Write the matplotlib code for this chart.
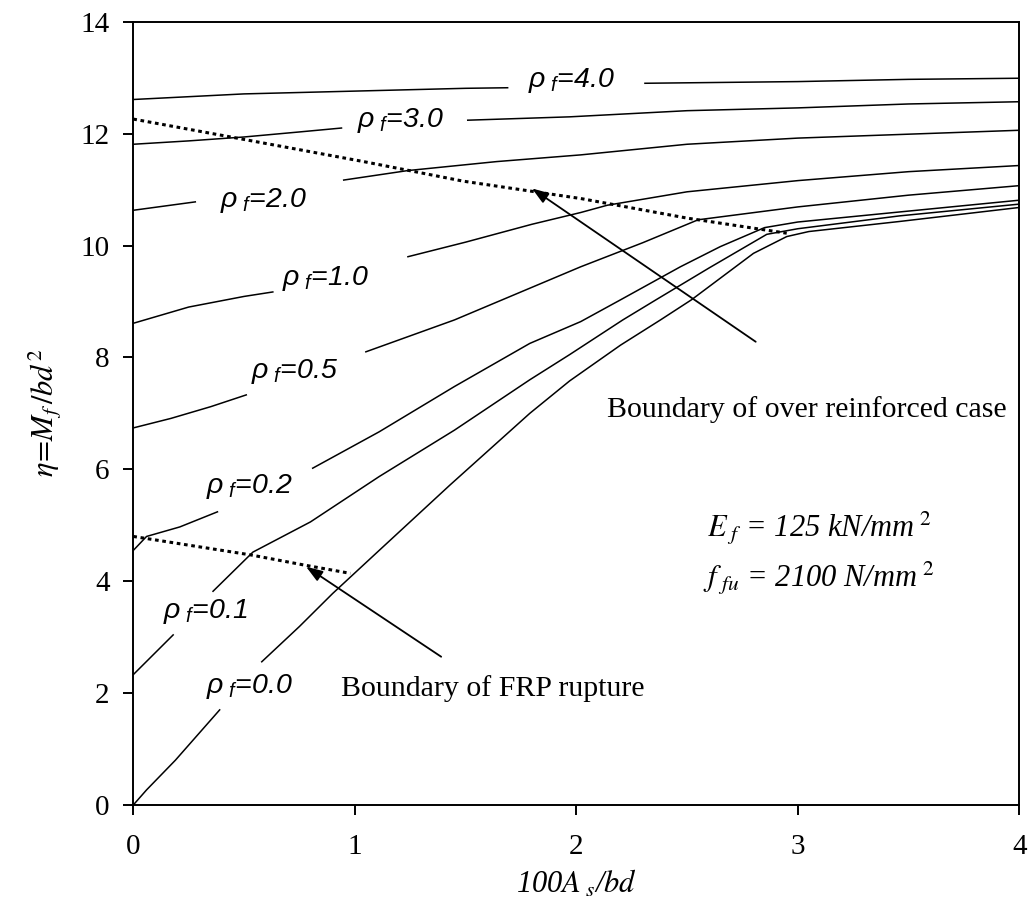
import numpy as np
import matplotlib
matplotlib.use("Agg")
import matplotlib.pyplot as plt

nan = np.nan

# curves, nan = gap where the label sits
x_r40 = [0, 0.5, 1.0, 1.5, 1.69, nan, 2.31, 3.0, 3.5, 4.0]
y_r40 = [12.61, 12.71, 12.76, 12.81, 12.82, nan, 12.90, 12.93, 12.97, 12.99]

x_r30 = [0, 0.25, 0.5, 0.75, 0.94, nan, 1.51, 1.97, 2.5, 3.0, 3.5, 4.0]
y_r30 = [11.81, 11.87, 11.94, 12.03, 12.10, nan, 12.24, 12.30, 12.41, 12.46, 12.53, 12.57]

x_r20 = [0, 0.28, nan, 0.95, 1.24, 1.64, 2.02, 2.5, 3.0, 3.5, 4.0]
y_r20 = [10.63, 10.78, nan, 11.17, 11.34, 11.50, 11.62, 11.81, 11.92, 11.99, 12.06]

x_r10 = [0, 0.25, 0.5, 0.63, nan, 1.24, 1.5, 1.8, 2.02, 2.14, 2.5, 3.0, 3.5, 4.0]
y_r10 = [8.61, 8.90, 9.09, 9.17, nan, 9.80, 10.06, 10.38, 10.59, 10.72, 10.96, 11.16, 11.32, 11.43]

x_r05 = [0, 0.17, 0.35, 0.51, nan, 1.05, 1.45, 2.02, 2.3, 2.55, 3.0, 3.5, 4.0]
y_r05 = [6.74, 6.91, 7.12, 7.33, nan, 8.10, 8.67, 9.62, 10.05, 10.46, 10.69, 10.90, 11.07]

x_r02 = [0, 0.06, 0.21, 0.38, nan, 0.81, 1.11, 1.45, 1.79, 2.02, 2.20, 2.47, 2.65, 2.85, 3.0, 3.46, 4.0]
y_r02 = [4.55, 4.80, 4.97, 5.24, nan, 6.02, 6.67, 7.48, 8.25, 8.64, 9.03, 9.62, 9.98, 10.32, 10.42, 10.60, 10.81]

x_r01 = [0, 0.18, nan, 0.36, 0.54, 0.80, 1.11, 1.45, 1.79, 1.97, 2.21, 2.36, 2.60, 2.86, 3.0, 3.46, 4.0]
y_r01 = [2.33, 3.04, nan, 3.82, 4.52, 5.06, 5.87, 6.70, 7.60, 8.05, 8.67, 9.03, 9.60, 10.20, 10.30, 10.53, 10.74]

x_r00 = [0, 0.06, 0.19, 0.39, nan, 0.58, 0.75, 0.90, 1.11, 1.43, 1.79, 1.97, 2.20, 2.38, 2.52, 2.80, 2.95, 3.05, 3.46, 4.0]
y_r00 = [0, 0.27, 0.80, 1.70, nan, 2.56, 3.19, 3.78, 4.55, 5.72, 7.00, 7.58, 8.22, 8.67, 9.03, 9.86, 10.16, 10.25, 10.43, 10.68]

# boundaries (dotted)
x_over = [0, 0.44, 1.04, 1.49, 2.02, 2.5, 2.95]
y_over = [12.26, 11.94, 11.50, 11.15, 10.84, 10.49, 10.22]
x_rupt = [0, 0.53, 0.77, 0.98]
y_rupt = [4.80, 4.47, 4.29, 4.14]

curves = [(x_r40, y_r40), (x_r30, y_r30), (x_r20, y_r20), (x_r10, y_r10),
          (x_r05, y_r05), (x_r02, y_r02), (x_r01, y_r01), (x_r00, y_r00)]
rho_labels = ["4.0", "3.0", "2.0", "1.0", "0.5", "0.2", "0.1", "0.0"]
label_pos = [(1.78, 12.84), (1.01, 12.12), (0.39, 10.69), (0.67, 9.29),
             (0.53, 7.64), (0.33, 5.58), (0.134, 3.35), (0.33, 2.00)]

plt.rcParams['mathtext.fontset'] = 'custom'
plt.rcParams['mathtext.it'] = 'Liberation Sans:italic'
plt.rcParams['mathtext.rm'] = 'Liberation Sans'
plt.rcParams['font.family'] = 'Liberation Serif'

fig = plt.figure(figsize=(10.30, 9.13), dpi=100)
ax = fig.add_axes([0.1294, 0.1183, 0.8602, 0.8579])

for xs, ys in curves:
    ax.plot(xs, ys, color='black', lw=1.1)

ax.plot(x_over, y_over, color='black', lw=2.2, linestyle=(0, (1.2, 1.2)))
ax.plot(x_rupt, y_rupt, color='black', lw=2.2, linestyle=(0, (1.2, 1.2)))

for lab, (lx, ly) in zip(rho_labels, label_pos):
    ax.text(lx, ly, r'$\rho_{\ f}$=' + lab, family='Liberation Sans',
            style='italic', fontsize=20.5, ha='left', va='baseline')

ax.annotate('', xy=(1.80, 11.02), xytext=(2.81, 8.28),
            arrowprops=dict(arrowstyle='-|>,head_length=1.0,head_width=0.35',
                            color='black', lw=1.3, shrinkA=0, shrinkB=0))
ax.annotate('', xy=(0.78, 4.26), xytext=(1.39, 2.65),
            arrowprops=dict(arrowstyle='-|>,head_length=1.0,head_width=0.35',
                            color='black', lw=1.3, shrinkA=0, shrinkB=0))

ax.text(2.14, 6.94, 'Boundary of over reinforced case', fontsize=21.5,
        ha='left', va='baseline')
ax.text(0.94, 1.94, 'Boundary of FRP rupture', fontsize=21.5,
        ha='left', va='baseline')

ax.text(2.59, 4.80, r'$E_{\ f}$ = 125 kN/mm$^{\ 2}$', fontsize=22, style='italic',
        ha='left', va='baseline', math_fontfamily='stix')
ax.text(2.57, 3.90, r'$f_{\ fu}$ = 2100 N/mm$^{\ 2}$', fontsize=22, style='italic',
        ha='left', va='baseline', math_fontfamily='stix')

ax.set_xlim(0, 4)
ax.set_ylim(0, 14)
ax.set_xticks([0, 1, 2, 3, 4])
ax.set_yticks(range(0, 15, 2))
ax.tick_params(direction='out', length=7, width=1.4, labelsize=21)
ax.tick_params(axis='x', pad=14)
ax.tick_params(axis='y', pad=10)
for sp in ax.spines.values():
    sp.set_linewidth(1.4)

ax.set_xlabel(r'100$A_{\ s}$/$bd$', fontsize=22, style='italic',
              math_fontfamily='stix', labelpad=6)
ax.set_ylabel(r'$\eta\!=\!M_f\,/bd^2$', fontsize=22, math_fontfamily='stix', labelpad=12)

fig.savefig('out.png', dpi=100)
